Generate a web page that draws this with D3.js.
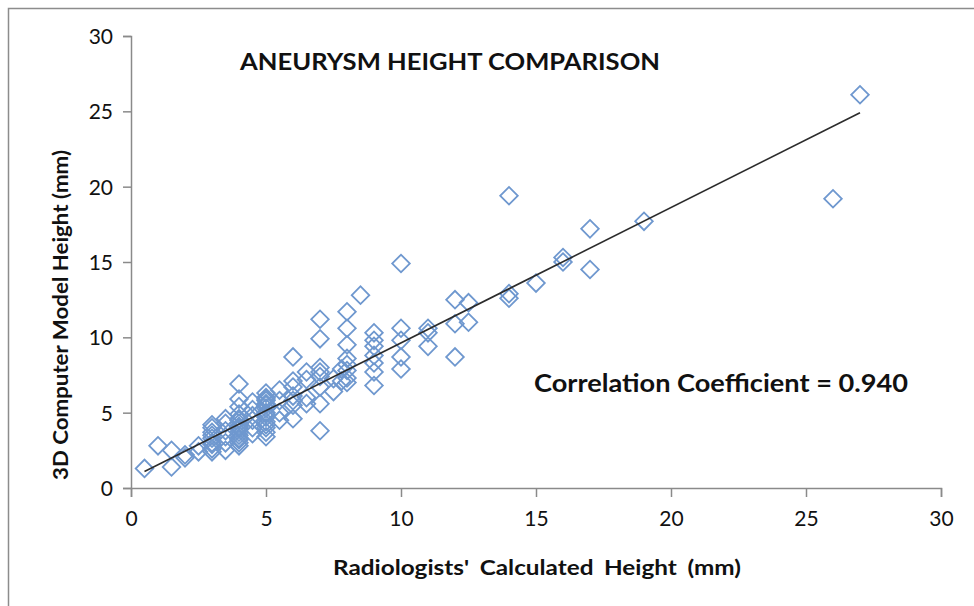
<!DOCTYPE html>
<html>
<head>
<meta charset="utf-8">
<script src="https://cdn.jsdelivr.net/npm/d3@7"></script>
<style>
  body { margin: 0; background: #fff; }
  .chart text { font-family: Lato, "Open Sans", sans-serif; fill: #111; }
</style>
</head>
<body>
<div class="chart"></div>
<script>
// Data
var radiologistHeight = [
  0.5, 1, 1.5, 1.5, 2, 2, 2.5, 2.5,
  3, 3, 3, 3, 3, 3, 3, 3, 3,
  3.5, 3.5, 3.5, 3.5, 3.5, 3.5,
  4, 4, 4, 4, 4, 4, 4, 4, 4, 4, 4, 4, 4, 4, 4, 4,
  4.5, 4.5, 4.5, 4.5, 4.5, 4.5,
  5, 5, 5, 5, 5, 5, 5, 5, 5, 5, 5, 5, 5, 5, 5,
  5.5, 5.5, 5.5, 5.5,
  6, 6, 6, 6, 6, 6, 6,
  6.5, 6.5, 6.5, 6.5,
  7, 7, 7, 7, 7, 7, 7, 7,
  7.5, 7.5, 7.8, 7.8,
  8, 8, 8, 8, 8, 8, 8, 8,
  8.5,
  9, 9, 9, 9, 9, 9, 9,
  10, 10, 10, 10, 10,
  11, 11, 11,
  12, 12, 12, 12.5, 12.5,
  14, 14, 14, 15, 16, 16, 17, 17, 19, 26, 27
];
var modelHeight = [
  1.3, 2.8, 2.5, 1.4, 2.0, 2.2, 2.8, 2.4,
  4.2, 4.0, 3.7, 3.3, 2.9, 2.6, 2.4, 3.0, 3.5,
  4.3, 3.8, 3.0, 2.5, 4.6, 3.4,
  6.9, 5.9, 5.4, 4.9, 4.6, 4.3, 4.0, 3.7, 3.5, 3.2, 3.0, 2.8, 4.5, 3.9, 4.1, 3.3,
  5.7, 5.2, 4.5, 4.0, 3.6, 4.8,
  6.3, 6.0, 5.8, 5.5, 5.3, 5.0, 4.7, 4.4, 4.0, 3.7, 3.4, 5.9, 4.2, 4.9, 5.6,
  6.5, 5.8, 5.0, 4.5,
  8.7, 7.1, 6.1, 5.5, 4.6, 6.7, 5.8,
  7.7, 7.2, 6.0, 5.6,
  11.2, 9.9, 8.0, 7.7, 7.4, 6.7, 5.6, 3.8,
  7.25, 6.4, 7.9, 7.1,
  11.7, 10.6, 9.5, 8.6, 8.2, 7.8, 7.3, 7.0,
  12.8,
  10.3, 9.8, 9.4, 8.8, 8.3, 7.7, 6.8,
  14.9, 10.6, 9.8, 8.7, 7.9,
  10.6, 10.3, 9.4,
  12.5, 10.9, 8.7, 12.3, 11.0,
  19.4, 12.9, 12.6, 13.6, 15.3, 15.0, 17.2, 14.5, 17.7, 19.2, 26.1
];
var trendX = [0.5, 27];
var trendY = [1.1, 24.9];
var xTicks = [0, 5, 10, 15, 20, 25, 30];
var yTicks = [0, 5, 10, 15, 20, 25, 30];

var svgWidth = 974;
var svgHeight = 606;

var margin = { top: 36, right: 33, bottom: 118, left: 131 };
var width = svgWidth - margin.left - margin.right;
var height = svgHeight - margin.top - margin.bottom;

var svg = d3.select(".chart")
  .append("svg")
  .attr("width", svgWidth)
  .attr("height", svgHeight);

// outer frame
svg.append("rect")
  .attr("x", 8.5)
  .attr("y", 8.5)
  .attr("width", svgWidth + 20)
  .attr("height", svgHeight + 20)
  .attr("fill", "none")
  .attr("stroke", "#8c8c8c")
  .attr("stroke-width", 1.5);

var chartGroup = svg.append("g")
  .attr("transform", `translate(${margin.left}, ${margin.top})`);

// Scales
var xScale = d3.scaleLinear().domain([0, 30]).range([0, width]);
var yScale = d3.scaleLinear().domain([0, 30]).range([height, 0]);

// Axes
var bottomAxis = d3.axisBottom(xScale).tickValues(xTicks).tickSizeInner(9).tickSizeOuter(9).tickPadding(14);
var leftAxis = d3.axisLeft(yScale).tickValues(yTicks).tickSizeInner(8).tickSizeOuter(8).tickPadding(10);

var xAxisG = chartGroup.append("g")
  .attr("transform", `translate(0, ${height})`)
  .call(bottomAxis);

var yAxisG = chartGroup.append("g")
  .call(leftAxis);

[xAxisG, yAxisG].forEach(function (g) {
  g.selectAll("path, line").attr("stroke", "#8a8a8a").attr("stroke-width", 1.5);
  g.selectAll("text")
    .style("font-family", "Lato, sans-serif")
    .style("font-size", "21px")
    .attr("fill", "#111");
});
yAxisG.selectAll("text").attr("dy", "0.36em");

// Markers (open diamonds)
var pts = radiologistHeight.map(function (v, i) { return { x: v, y: modelHeight[i] }; });
var diamond = d3.symbol().type(d3.symbolSquare).size(155);

chartGroup.selectAll(".pt")
  .data(pts)
  .enter()
  .append("path")
  .attr("class", "pt")
  .attr("d", diamond)
  .attr("transform", d => `translate(${xScale(d.x)}, ${yScale(d.y)}) rotate(45)`)
  .attr("fill", "none")
  .attr("stroke", "#6f98cf")
  .attr("stroke-width", 1.8);

// Trend line
chartGroup.append("path")
  .datum(trendX.map(function (v, i) { return [v, trendY[i]]; }))
  .attr("d", d3.line().x(d => xScale(d[0])).y(d => yScale(d[1])))
  .attr("fill", "none")
  .attr("stroke", "#2b2b2b")
  .attr("stroke-width", 1.6);

// Titles
svg.append("text")
  .attr("x", 240)
  .attr("y", 70)
  .attr("textLength", 420)
  .attr("lengthAdjust", "spacingAndGlyphs")
  .style("font-size", "23px")
  .style("font-weight", "bold")
  .text("ANEURYSM HEIGHT COMPARISON");

svg.append("text")
  .attr("x", 534)
  .attr("y", 392)
  .attr("textLength", 374)
  .attr("lengthAdjust", "spacingAndGlyphs")
  .style("font-size", "24px")
  .style("font-weight", "bold")
  .text("Correlation Coefficient = 0.940");

svg.append("text")
  .attr("x", 333)
  .attr("y", 575)
  .attr("textLength", 408)
  .attr("lengthAdjust", "spacingAndGlyphs")
  .style("font-size", "21px")
  .style("font-weight", "bold")
  .style("word-spacing", "4px")
  .text("Radiologists' Calculated Height (mm)");

svg.append("text")
  .attr("transform", "translate(68, 480) rotate(-90)")
  .attr("textLength", 330)
  .attr("lengthAdjust", "spacingAndGlyphs")
  .style("font-size", "21px")
  .style("font-weight", "bold")
  .text("3D Computer Model Height (mm)");
</script>
</body>
</html>
